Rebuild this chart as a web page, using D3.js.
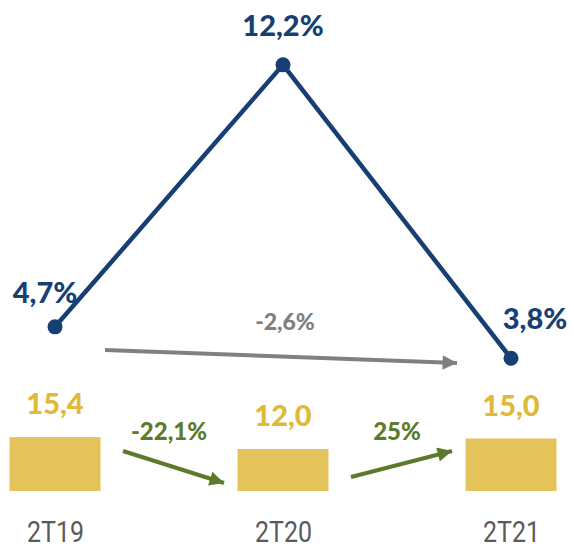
<!DOCTYPE html>
<html><head><meta charset="utf-8">
<script src="https://cdn.jsdelivr.net/npm/d3@7"></script>
<style>body{margin:0;background:#fff}svg{display:block}</style>
</head><body>
<script>
const categories = ["2T19", "2T20", "2T21"];
const barValues = [15.4, 12.0, 15.0];
const barLabels = ["15,4", "12,0", "15,0"];
const lineValues = [4.7, 12.2, 3.8];
const lineLabels = ["4,7%", "12,2%", "3,8%"];
const changes = [
  {from: 0, to: 1, label: "-22,1%", kind: "bar"},
  {from: 1, to: 2, label: "25%", kind: "bar"},
  {from: 0, to: 2, label: "-2,6%", kind: "line"}
];

const W = 574, H = 550;
const blue = "#173f74", yellow = "#e4c35a", yellowTxt = "#e0b93b", green = "#5b7a2c", gray = "#808080", catGray = "#5a5a5a";
const svg = d3.select("body").append("svg").attr("width", W).attr("height", H);

const x = d3.scalePoint().domain(categories).range([55, 511]);
const bw = 91;
const base = 491;
const yBar = d3.scaleLinear().domain([0, 20]).range([base, base - 70]);
const yLine = d3.scaleLinear().domain([0, 14]).range([base, base - 14 * 34.93]);

const defs = svg.append("defs");
function marker(id, color) {
  defs.append("marker").attr("id", id).attr("viewBox", "0 0 10 10").attr("refX", 10).attr("refY", 5)
    .attr("markerWidth", 4.2).attr("markerHeight", 3.6).attr("orient", "auto").attr("markerUnits", "strokeWidth")
    .append("path").attr("d", "M0,0L10,5L0,10Z").attr("fill", color);
}
marker("ag", green); marker("ay", gray);

// bars
svg.selectAll("rect.bar").data(barValues).join("rect").attr("class", "bar")
  .attr("x", (d, i) => x(categories[i]) - bw / 2).attr("width", bw)
  .attr("y", d => yBar(d)).attr("height", d => base - yBar(d)).attr("fill", yellow);
svg.selectAll("text.bl").data(barValues).join("text").attr("class", "bl")
  .attr("x", (d, i) => x(categories[i])).attr("y", d => yBar(d) - 23)
  .attr("text-anchor", "middle").attr("font-family", "Lato").attr("font-weight", 900)
  .attr("font-size", 29).attr("fill", yellowTxt).text((d, i) => barLabels[i]);

// categories
svg.selectAll("text.cat").data(categories).join("text").attr("class", "cat")
  .attr("x", d => x(d) - 28).attr("y", 542)
  .attr("font-family", "Roboto").attr("font-weight", 400).attr("font-size", 30)
  .attr("textLength", 57).attr("lengthAdjust", "spacingAndGlyphs")
  .attr("fill", catGray).text(d => d);

// line
const pts = lineValues.map((v, i) => [x(categories[i]), yLine(v)]);
svg.append("path").attr("d", d3.line()(pts)).attr("fill", "none").attr("stroke", blue).attr("stroke-width", 4.5);
svg.selectAll("circle.pt").data(pts).join("circle").attr("class", "pt")
  .attr("cx", d => d[0]).attr("cy", d => d[1]).attr("r", 7.5).attr("fill", blue);
const lblOff = [[-10, -24], [0, -29], [24, -29]];
svg.selectAll("text.ll").data(pts).join("text").attr("class", "ll")
  .attr("x", (d, i) => d[0] + lblOff[i][0]).attr("y", (d, i) => d[1] + lblOff[i][1])
  .attr("text-anchor", "middle").attr("font-family", "Lato").attr("font-weight", 900)
  .attr("font-size", 29).attr("fill", blue).text((d, i) => lineLabels[i]);

// change arrows
changes.forEach(c => {
  const x0 = x(categories[c.from]), x1 = x(categories[c.to]);
  let p0, p1, lx, ly, col, fs;
  if (c.kind === "bar") {
    const y0 = yBar(barValues[c.from]), y1 = yBar(barValues[c.to]);
    const t0 = base - 40 + (y0 < y1 ? 0 : 26), t1 = base - 40 + (y0 < y1 ? 32 : 0);
    p0 = [x0 + 68, t0]; p1 = [x1 - 59, t1];
    lx = (x0 + x1) / 2; ly = 440; col = green; fs = 24;
  } else {
    p0 = [x0 + 50, 350]; p1 = [x1 - 54, 363];
    lx = (x0 + x1) / 2 + 2; ly = 330; col = gray; fs = 23;
  }
  svg.append("line").attr("x1", p0[0]).attr("y1", p0[1]).attr("x2", p1[0]).attr("y2", p1[1])
    .attr("stroke", col).attr("stroke-width", 4).attr("marker-end", `url(#${c.kind === "bar" ? "ag" : "ay"})`);
  svg.append("text").attr("x", lx).attr("y", ly).attr("text-anchor", "middle")
    .attr("font-family", "Lato").attr("font-weight", 900).attr("font-size", fs).attr("fill", col).text(c.label);
});
</script>
</body></html>
